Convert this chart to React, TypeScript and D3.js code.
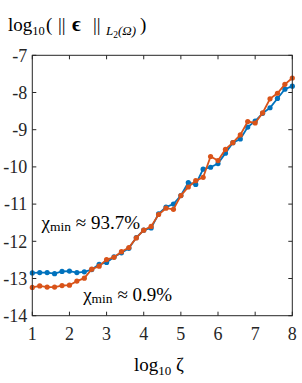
import React from 'react';
import * as d3 from 'd3';

// log10 zeta sample positions
const zeta = [
  1.0, 1.2, 1.4, 1.6, 1.8, 2.0, 2.2, 2.4, 2.6, 2.8, 3.0, 3.2,
  3.4, 3.6, 3.8, 4.0, 4.2, 4.4, 4.6, 4.8, 5.0, 5.2, 5.4, 5.6,
  5.8, 6.0, 6.2, 6.4, 6.6, 6.8, 7.0, 7.2, 7.4, 7.6, 7.8, 8.0,
];

// chi_min ~ 93.7%
const errHigh = [
  -12.85, -12.84, -12.84, -12.87, -12.81, -12.80, -12.84, -12.82, -12.76, -12.62, -12.57, -12.42,
  -12.31, -12.19, -11.90, -11.70, -11.64, -11.26, -11.08, -11.00, -10.77, -10.42, -10.47, -10.06,
  -10.01, -9.91, -9.63, -9.35, -9.25, -8.93, -8.77, -8.56, -8.41, -8.16, -7.91, -7.83,
];

// chi_min ~ 0.9%
const errLow = [
  -13.24, -13.20, -13.23, -13.23, -13.19, -13.18, -13.07, -12.99, -12.75, -12.67, -12.49, -12.43,
  -12.28, -12.17, -11.91, -11.70, -11.60, -11.28, -11.11, -11.14, -10.77, -10.54, -10.37, -10.28,
  -9.72, -9.83, -9.53, -9.35, -9.14, -8.78, -8.82, -8.55, -8.17, -8.02, -7.78, -7.61,
];

const xTicks = [1, 2, 3, 4, 5, 6, 7, 8];
const yTicks = [-7, -8, -9, -10, -11, -12, -13, -14];

const W = 302;
const H = 383;
const FONT = '"Liberation Serif", "Times New Roman", serif';
const AXIS = '#262626';

export default function App() {
  const x = d3.scaleLinear().domain([1, 8]).range([32.3, 292.3]);
  const y = d3.scaleLinear().domain([-14, -7]).range([315.7, 55.3]);

  const line = d3.line<[number, number]>()
    .x(d => x(d[0]))
    .y(d => y(d[1]));

  const series = [
    { values: errHigh, color: '#0072BD' },
    { values: errLow, color: '#D95319' },
  ];

  const [x0, x1] = x.range();
  const [y0, y1] = y.range();
  const tk = 4;

  return (
    <svg width={W} height={H} style={{ position: 'absolute', left: 0, top: 0, background: '#fff' }}
      fontFamily={FONT}>
      <rect width={W} height={H} fill="#fff" />

      {/* title / y label */}
      <text y={31} fontSize={19} fill="#000">
        <tspan x={8}>log</tspan>
        <tspan fontSize={12.5} dy={4}>10</tspan>
        <tspan x={46} dy={-4}>(</tspan>
        <tspan x={58}>||</tspan>
        <tspan x={72} fontSize={21} fontWeight="bold">ϵ</tspan>
        <tspan x={93}>||</tspan>
        <tspan x={106} fontSize={13} fontStyle="italic" dy={4}>L</tspan>
        <tspan fontSize={9.5} dy={3}>2</tspan>
        <tspan fontSize={13} fontStyle="italic" dy={-3}>(Ω)</tspan>
        <tspan x={140} dy={-4}>)</tspan>
      </text>

      {/* series */}
      {series.map((s, i) => {
        const pts = zeta.map((z, j) => [z, s.values[j]] as [number, number]);
        return (
          <g key={i}>
            <path d={line(pts) ?? ''} fill="none" stroke={s.color} strokeWidth={1.8} />
            {pts.map((p, j) => (
              <circle key={j} cx={x(p[0])} cy={y(p[1])} r={2.6} fill={s.color} />
            ))}
          </g>
        );
      })}

      {/* axes box */}
      <rect x={x0} y={y1} width={x1 - x0} height={y0 - y1} fill="none" stroke={AXIS} strokeWidth={1} />
      {xTicks.map(t => (
        <g key={'x' + t}>
          <line x1={x(t)} x2={x(t)} y1={y0} y2={y0 - tk} stroke={AXIS} />
          <line x1={x(t)} x2={x(t)} y1={y1} y2={y1 + tk} stroke={AXIS} />
          <text x={x(t)} y={y0 + 24} fontSize={18} textAnchor="middle" fill={AXIS}>{t}</text>
        </g>
      ))}
      {yTicks.map(t => (
        <g key={'y' + t}>
          <line x1={x0} x2={x0 + tk} y1={y(t)} y2={y(t)} stroke={AXIS} />
          <line x1={x1} x2={x1 - tk} y1={y(t)} y2={y(t)} stroke={AXIS} />
          <text x={x0 - 5} y={y(t)} dy="0.35em" fontSize={18} textAnchor="end" fill={AXIS}>{t}</text>
        </g>
      ))}

      {/* x label */}
      <text x={159} y={371} fontSize={19} textAnchor="middle" fill="#000">
        log<tspan fontSize={13} dy={4}>10</tspan><tspan dy={-4}> ζ</tspan>
      </text>

      {/* annotations */}
      <text x={x(1.25)} y={y(-11.67)} fontSize={19} fill="#000">
        χ<tspan fontSize={13.5} dy={2}>min</tspan><tspan dy={-2}> ≈ 93.7%</tspan>
      </text>
      <text x={x(2.37)} y={y(-13.6)} fontSize={19} fill="#000">
        χ<tspan fontSize={13.5} dy={2}>min</tspan><tspan dy={-2}> ≈ 0.9%</tspan>
      </text>
    </svg>
  );
}
